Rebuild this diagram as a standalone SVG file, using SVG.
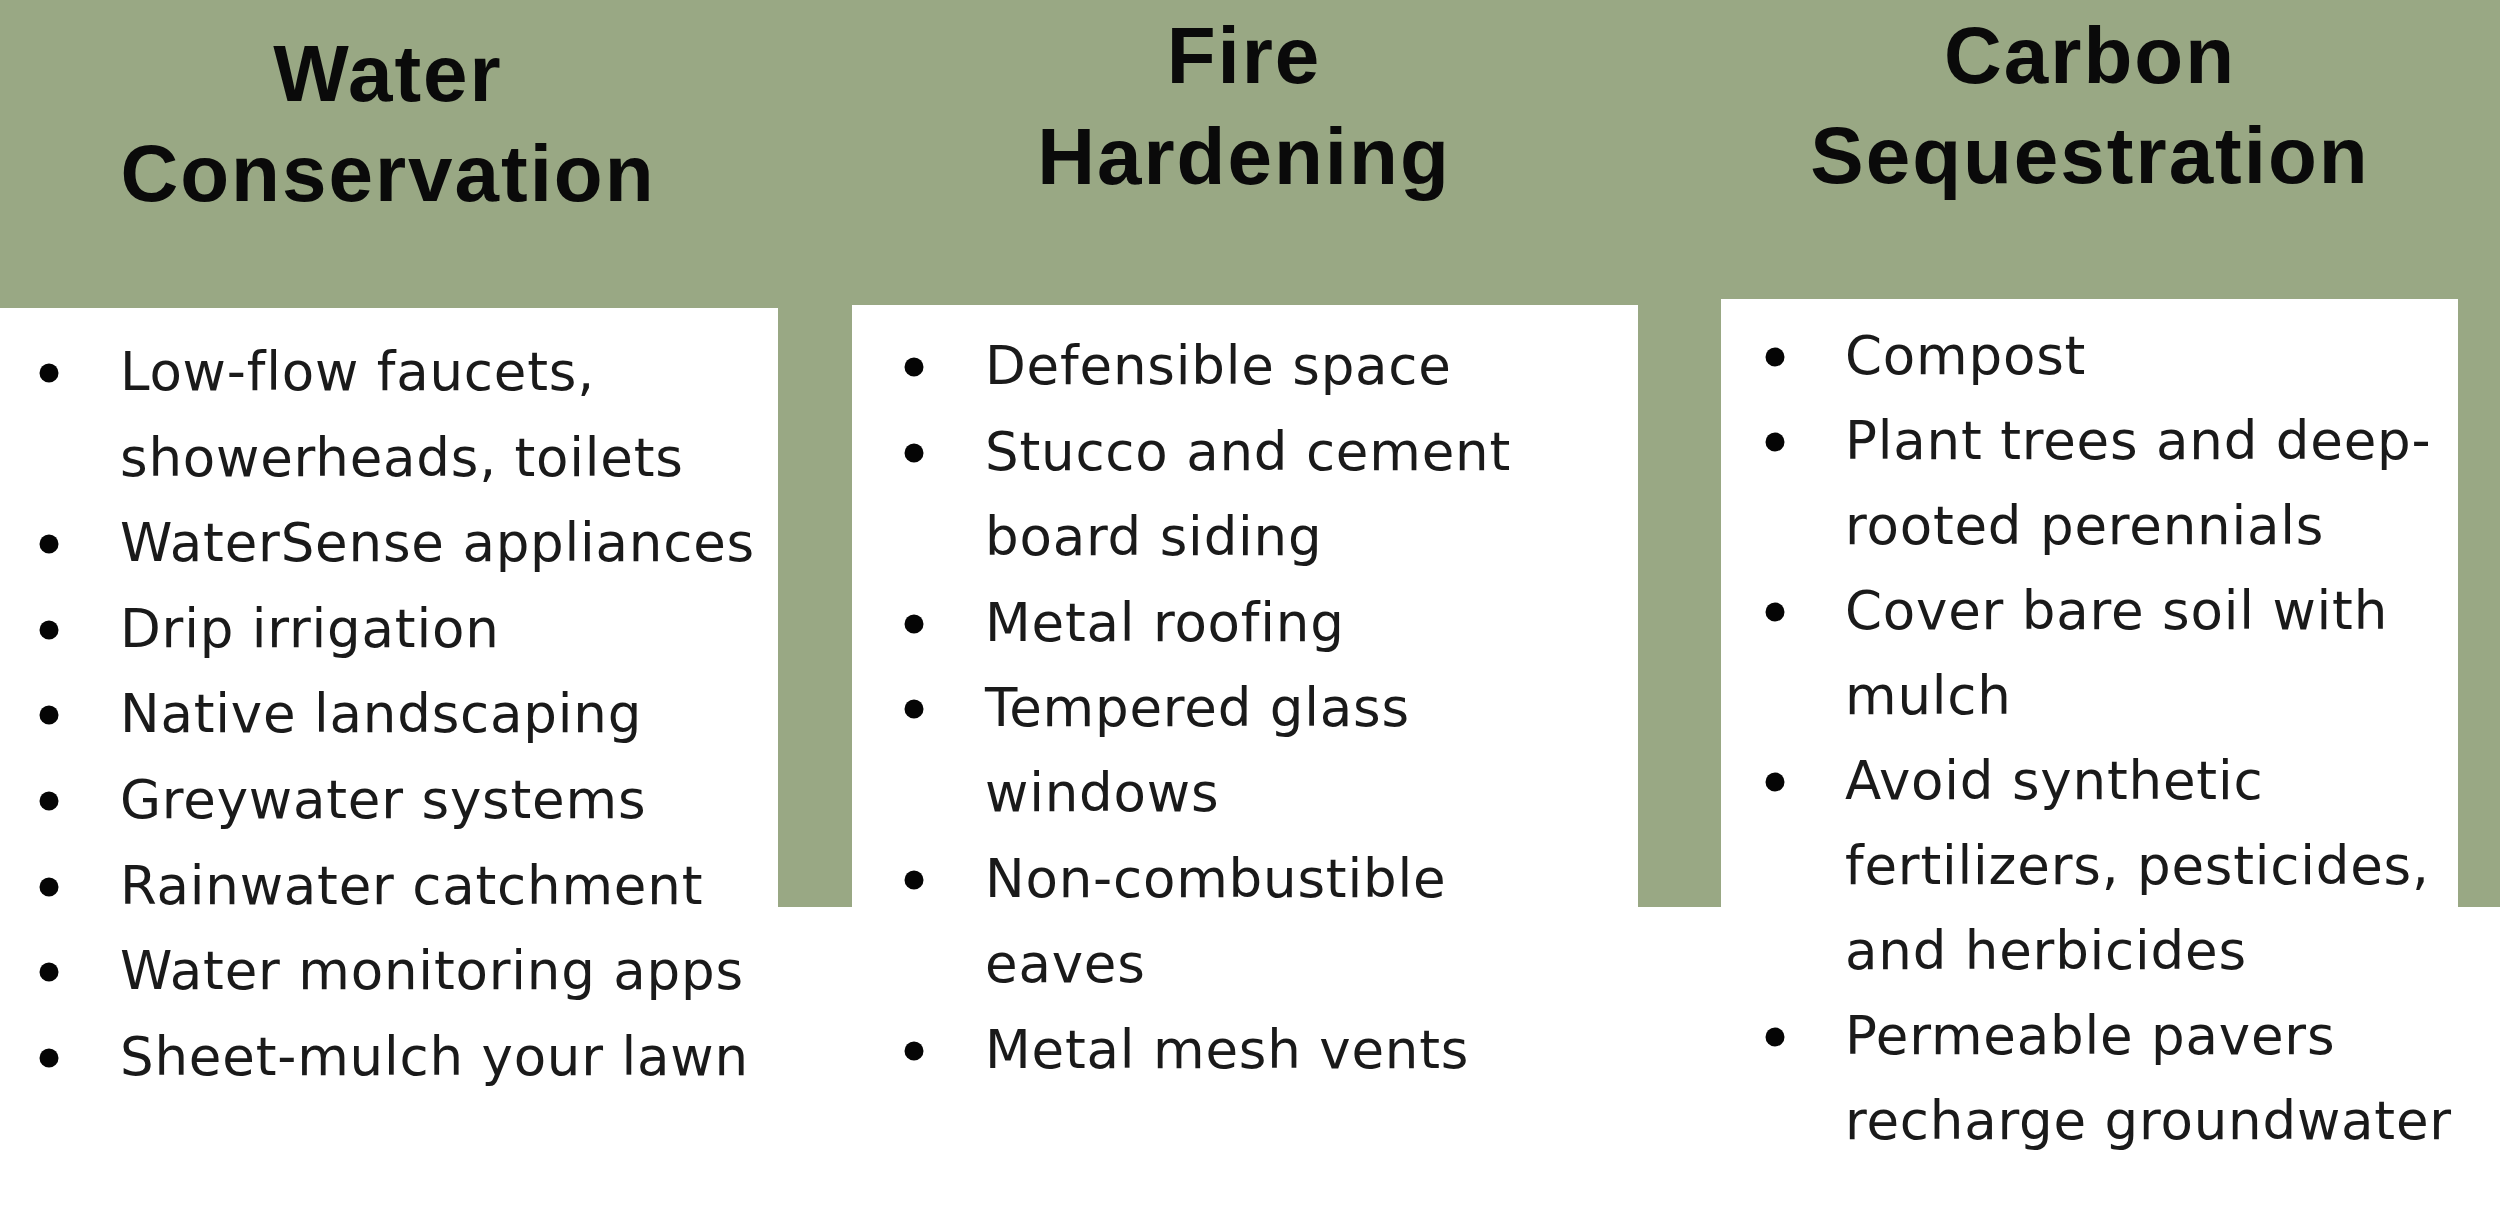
<svg xmlns="http://www.w3.org/2000/svg" width="2500" height="1206" viewBox="0 0 2500 1206">
<style>
.bg{fill:#99a884}
.box{fill:#ffffff}
.title{font-family:"Liberation Sans",Arial,sans-serif;font-weight:bold;font-size:80px;fill:#0a0a0a;text-anchor:middle;letter-spacing:2px}
.item{font-family:"DejaVu Sans",sans-serif;font-size:53px;fill:#1a1a1a;letter-spacing:0.8px}
.dot{fill:#050505}
</style>
<rect x="0" y="0" width="2500" height="1206" fill="#ffffff"/>
<rect class="bg" x="0" y="0" width="2500" height="907"/>
<g id="water">
<rect class="box" x="0" y="308" width="778" height="898"/>
<text class="title" x="388" y="101">Water</text>
<text class="title" x="388" y="201">Conservation</text>
<circle class="dot" cx="49" cy="373" r="9.5"/><text class="item" x="120" y="390">Low-flow faucets,</text>
<text class="item" x="120" y="476">showerheads, toilets</text>
<circle class="dot" cx="49" cy="544" r="9.5"/><text class="item" x="120" y="561">WaterSense appliances</text>
<circle class="dot" cx="49" cy="630" r="9.5"/><text class="item" x="120" y="647">Drip irrigation</text>
<circle class="dot" cx="49" cy="715" r="9.5"/><text class="item" x="120" y="732">Native landscaping</text>
<circle class="dot" cx="49" cy="801" r="9.5"/><text class="item" x="120" y="818">Greywater systems</text>
<circle class="dot" cx="49" cy="887" r="9.5"/><text class="item" x="120" y="904">Rainwater catchment</text>
<circle class="dot" cx="49" cy="972" r="9.5"/><text class="item" x="120" y="989">Water monitoring apps</text>
<circle class="dot" cx="49" cy="1058" r="9.5"/><text class="item" x="120" y="1075">Sheet-mulch your lawn</text>
</g>
<g id="fire">
<rect class="box" x="852" y="305" width="786" height="901"/>
<text class="title" x="1244" y="83">Fire</text>
<text class="title" x="1244" y="184">Hardening</text>
<circle class="dot" cx="914" cy="367" r="9.5"/><text class="item" x="985" y="384">Defensible space</text>
<circle class="dot" cx="914" cy="453" r="9.5"/><text class="item" x="985" y="470">Stucco and cement</text>
<text class="item" x="985" y="555">board siding</text>
<circle class="dot" cx="914" cy="624" r="9.5"/><text class="item" x="985" y="641">Metal roofing</text>
<circle class="dot" cx="914" cy="709" r="9.5"/><text class="item" x="985" y="726">Tempered glass</text>
<text class="item" x="985" y="811">windows</text>
<circle class="dot" cx="914" cy="880" r="9.5"/><text class="item" x="985" y="897">Non-combustible</text>
<text class="item" x="985" y="982">eaves</text>
<circle class="dot" cx="914" cy="1051" r="9.5"/><text class="item" x="985" y="1068">Metal mesh vents</text>
</g>
<g id="carbon">
<rect class="box" x="1721" y="299" width="737" height="907"/>
<text class="title" x="2090" y="83">Carbon</text>
<text class="title" x="2090" y="183">Sequestration</text>
<circle class="dot" cx="1775" cy="357" r="9.5"/><text class="item" x="1845" y="374">Compost</text>
<circle class="dot" cx="1775" cy="442" r="9.5"/><text class="item" x="1845" y="459">Plant trees and deep-</text>
<text class="item" x="1845" y="544">rooted perennials</text>
<circle class="dot" cx="1775" cy="612" r="9.5"/><text class="item" x="1845" y="629">Cover bare soil with</text>
<text class="item" x="1845" y="714">mulch</text>
<circle class="dot" cx="1775" cy="782" r="9.5"/><text class="item" x="1845" y="799">Avoid synthetic</text>
<text class="item" x="1845" y="884">fertilizers, pesticides,</text>
<text class="item" x="1845" y="969">and herbicides</text>
<circle class="dot" cx="1775" cy="1037" r="9.5"/><text class="item" x="1845" y="1054">Permeable pavers</text>
<text class="item" x="1845" y="1139">recharge groundwater</text>
</g>
</svg>
